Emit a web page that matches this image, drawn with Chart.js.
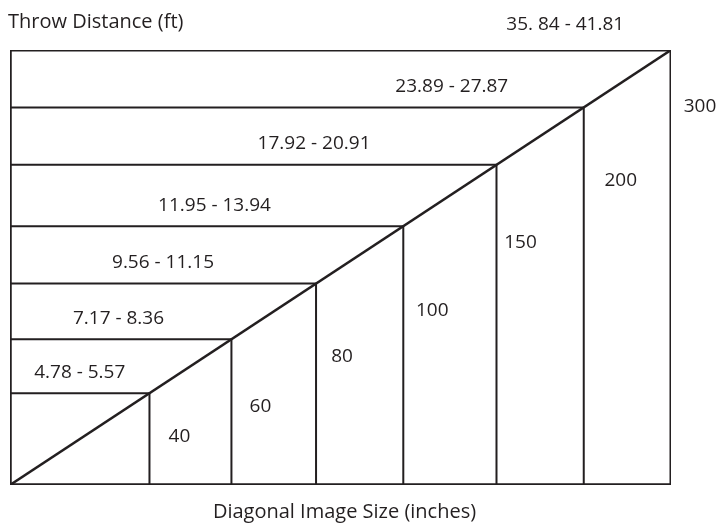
<!DOCTYPE html>
<html>
<head>
<meta charset="utf-8">
<script src="https://cdn.jsdelivr.net/npm/chart.js@4.4.1/dist/chart.umd.min.js"></script>
<style>
  html, body { margin: 0; padding: 0; background: #fff; }
  #wrap { width: 724px; height: 525px; position: relative; }
</style>
</head>
<body>
<div id="wrap"><canvas id="throwChart"></canvas></div>
<script>
// Screen sizes (inches) and their throw distance ranges
const sizes = ['40', '60', '80', '100', '150', '200', '300'];
const throwRanges = ['4.78 - 5.57', '7.17 - 8.36', '9.56 - 11.15', '11.95 - 13.94', '17.92 - 20.91', '23.89 - 27.87', '35. 84 - 41.81'];
// corner of each box along the diagonal, in % of the frame (as drawn, not to scale)
const corners = [21.1, 33.5, 46.3, 59.5, 73.6, 86.8, 100];

const axisTitleX = 'Diagonal Image Size (inches)';
const axisTitleY = 'Throw Distance (ft)';

const ink = '#231f20';
const font = '19px "Open Sans", sans-serif';
const titleFont = '20px "Open Sans", sans-serif';

// label placement tweaks (pixels / fractions)
const sizeLabelDrop = [43, 67, 73, 84, 78, 73, 57];
const sizeLabelShift = [30, 29, 26, 29, 24, 37, 29];
const rangeLabelCenter = [0.5, 0.49, 0.5, 0.52, 0.625, 0.77, 0.84];

// one L-shaped line per box: left edge -> corner -> bottom
const boxSets = corners.map((p, i) => ({
  label: sizes[i],
  data: [{ x: 0, y: p }, { x: p, y: p }, { x: p, y: 0 }],
  borderColor: ink,
  borderWidth: i === corners.length - 1 ? 3 : 2,
  pointRadius: 0,
  fill: false,
  tension: 0
}));

const frameSet = {
  label: 'frame',
  data: [{ x: 0, y: 100 }, { x: 0, y: 0 }, { x: 100, y: 0 }],
  borderColor: ink,
  borderWidth: 3.5,
  pointRadius: 0,
  fill: false
};

const diagonalSet = {
  label: 'diagonal',
  data: [{ x: 0, y: 0 }, { x: 100, y: 100 }],
  borderColor: ink,
  borderWidth: 2.5,
  pointRadius: 0,
  fill: false
};

const labelPlugin = {
  id: 'labels',
  afterDraw(chart) {
    const { ctx, scales: { x, y }, chartArea } = chart;
    ctx.save();
    ctx.fillStyle = ink;
    ctx.font = font;
    ctx.textBaseline = 'middle';

    corners.forEach((p, i) => {
      const px = x.getPixelForValue(p);
      const py = y.getPixelForValue(p);
      const left = x.getPixelForValue(0);
      // throw distance above each horizontal line
      ctx.textAlign = 'center';
      ctx.fillText(throwRanges[i], left + (px - left) * rangeLabelCenter[i], py - (i === corners.length - 1 ? 25 : 21));
      // screen size right of each vertical line
      ctx.fillText(sizes[i], px + sizeLabelShift[i], py + sizeLabelDrop[i]);
    });

    ctx.font = titleFont;
    ctx.textAlign = 'left';
    ctx.fillText(axisTitleY, 8, 22);
    ctx.textAlign = 'center';
    ctx.fillText(axisTitleX, (chartArea.left + chartArea.right) / 2 + 4, 512);
    ctx.restore();
  }
};

new Chart(document.getElementById('throwChart'), {
  type: 'line',
  data: { datasets: [frameSet, diagonalSet, ...boxSets] },
  options: {
    responsive: true,
    maintainAspectRatio: false,
    animation: false,
    layout: { padding: { left: 10, top: 50, right: 53, bottom: 40 } },
    plugins: {
      legend: { display: false },
      tooltip: { enabled: false }
    },
    scales: {
      x: { type: 'linear', min: 0, max: 100, display: false },
      y: { type: 'linear', min: 0, max: 100, display: false }
    }
  },
  plugins: [labelPlugin]
});
</script>
</body>
</html>
